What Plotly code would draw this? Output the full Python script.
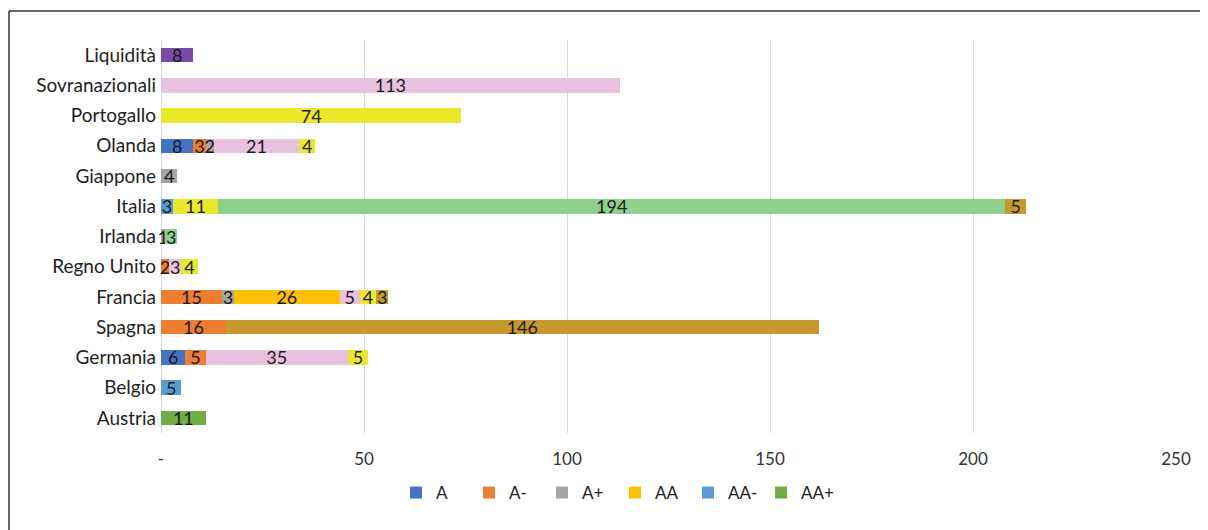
import plotly.graph_objects as go

categories = ["Liquidità", "Sovranazionali", "Portogallo", "Olanda", "Giappone", "Italia",
              "Irlanda", "Regno Unito", "Francia", "Spagna", "Germania", "Belgio", "Austria"]

# values per series, aligned with categories (None = no segment)
s_A     = [None, None, None, 8, None, None, None, None, None, None, 6, None, None]
s_Am    = [None, None, None, 3, None, None, None, 2, 15, 16, 5, None, None]
s_Ap    = [None, None, None, 2, 4, None, 1, None, 3, None, None, None, None]
s_AA    = [None, None, None, None, None, None, None, None, 26, None, None, None, None]
s_AAm   = [None, None, None, None, None, 3, None, None, None, None, None, 5, None]
s_AAp   = [None, None, None, None, None, None, None, None, None, None, None, None, 11]
s_AAA   = [None, 113, None, 21, None, None, None, 3, 5, None, 35, None, None]
s_BBBp  = [None, None, 74, 4, None, 11, None, 4, 4, None, 5, None, None]
s_BBB   = [None, None, None, None, None, 194, 3, None, None, None, None, None, None]
s_BBBm  = [None, None, None, None, None, 5, None, None, 3, 146, None, None, None]
s_Liq   = [8, None, None, None, None, None, None, None, None, None, None, None, None]

series = [
    ("A", s_A, "#4472C4", True),
    ("A-", s_Am, "#ED7D31", True),
    ("A+", s_Ap, "#A5A5A5", True),
    ("AA", s_AA, "#FFC000", True),
    ("AA-", s_AAm, "#5B9BD5", True),
    ("AA+", s_AAp, "#70AD47", True),
    ("AAA", s_AAA, "#E8C1DE", False),
    ("BBB+", s_BBBp, "#EBE82B", False),
    ("BBB", s_BBB, "#8FD08C", False),
    ("BBB-", s_BBBm, "#C6992E", False),
    ("Liquidità", s_Liq, "#7A4BA6", False),
]

x_ticks = [0, 50, 100, 150, 200, 250]
x_ticktext = ["-", "50", "100", "150", "200", "250"]

FONT = "Lato, 'Open Sans', sans-serif"

fig = go.Figure()
for name, vals, color, show in series:
    fig.add_trace(go.Bar(
        y=categories, x=vals, name=name, orientation="h",
        marker=dict(color=color, line=dict(width=0)),
        text=[str(v) if v is not None else "" for v in vals],
        textposition="inside", insidetextanchor="middle", textangle=0,
        textfont=dict(color="#1a1a1a", size=18, family=FONT),
        constraintext="none", cliponaxis=False,
        showlegend=show, hoverinfo="x+name",
    ))

# page body has an 8px margin: figure coords = reference coords - 8
OFF = 8
W, H = 1200, 522
L, R, T, B = 153, 32, 32, 97
pw, ph = W - L - R, H - T - B

def px(x):
    return (x - OFF - L) / pw

def py(y):
    return (H - B - (y - OFF)) / ph

fig.update_layout(
    barmode="stack",
    bargap=0.52,
    width=W, height=H,
    margin=dict(l=L, r=R, t=T, b=B),
    paper_bgcolor="white", plot_bgcolor="white",
    font=dict(family=FONT, color="#222222", size=16),
    uniformtext=dict(minsize=18, mode="show"),
    xaxis=dict(range=[0, 250], tickvals=x_ticks, ticktext=x_ticktext,
               showgrid=True, gridcolor="#D9D9D9", gridwidth=1,
               zeroline=True, zerolinecolor="#D9D9D9", zerolinewidth=1,
               showline=False, ticks="", tickfont=dict(size=17, color="#333333"),
               ticklabelstandoff=14),
    yaxis=dict(autorange="reversed", showgrid=False, showline=False, ticks="",
               tickfont=dict(size=19, color="#1e1e1e"), ticklabelstandoff=4),
    legend=dict(orientation="h", x=px(396), xanchor="left", y=py(493), yanchor="middle",
                font=dict(size=17, color="#222222"), traceorder="normal",
                itemwidth=30, entrywidth=28, entrywidthmode="pixels"),
    shapes=[
        dict(type="line", xref="paper", yref="paper", x0=px(9), x1=px(9), y0=py(11), y1=py(H + 20),
             line=dict(color="#333333", width=1.5)),
        dict(type="line", xref="paper", yref="paper", x0=px(9), x1=px(W + 20), y0=py(11), y1=py(11),
             line=dict(color="#333333", width=1.5)),
    ],
)

fig.write_html("out.html")
